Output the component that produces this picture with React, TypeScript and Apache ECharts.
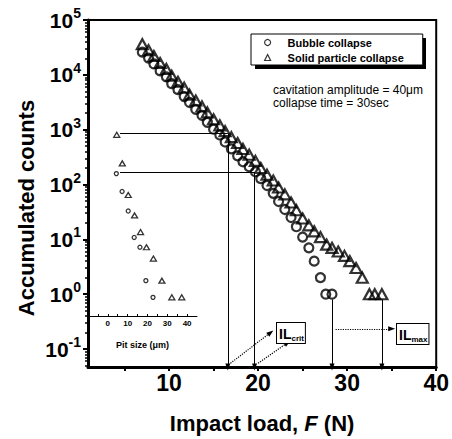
import React, { useEffect, useRef } from 'react';
import * as echarts from 'echarts';

const FONT = 'Liberation Sans, Arial, Helvetica, sans-serif';

// Main plot: impact load F (N) vs accumulated counts
const solidF = [7.0, 7.7, 8.3, 9.0, 9.7, 10.3, 11.0, 11.7, 12.3, 13.0, 13.7, 14.3, 15.0, 15.7, 16.3, 17.0, 17.7, 18.3, 19.0, 19.7, 20.3, 21.0, 21.7, 22.3, 23.0, 23.7, 24.3, 25.0, 25.7, 26.3, 27.0, 27.7, 28.3, 29.0, 29.7, 30.3, 31.0, 31.7, 32.5, 33.1, 33.9];
const solidCounts = [36200, 28200, 22000, 16400, 12800, 9600, 7480, 5830, 4360, 3400, 2650, 2070, 1550, 1200, 940, 730, 570, 445, 350, 270, 200, 151, 118, 88, 66, 47, 34, 24, 18, 14, 11, 8, 7, 6, 5, 4, 3, 2, 1, 1, 1];
const bubbleF = [7.0, 7.7, 8.3, 9.0, 9.7, 10.3, 11.0, 11.7, 12.3, 13.0, 13.7, 14.3, 15.0, 15.7, 16.3, 17.0, 17.7, 18.3, 19.0, 19.7, 20.3, 21.0, 21.7, 22.3, 23.0, 23.7, 24.3, 25.0, 25.7, 26.3, 27.0, 27.6, 28.3];
const bubbleCounts = [25900, 20200, 15800, 11800, 9200, 6890, 5370, 4020, 3130, 2340, 1820, 1360, 1020, 800, 596, 446, 333, 260, 211, 171, 128, 96, 69, 49, 35, 25, 17, 11, 7, 4, 2, 1, 1];

// Inset: pit size (um) vs counts
const insetBubbleSize = [4.3, 7.2, 10.3, 13.3, 16.2, 19.2, 22.8];
const insetBubbleCounts = [170, 81, 36, 12, 8, 2, 1];
const insetSolidSize = [4.5, 7.3, 10.3, 13.5, 16.5, 19.5, 23.0, 27.3, 32.3, 37.3];
const insetSolidCounts = [850, 260, 70, 30, 15, 8, 5, 2, 1, 1];

// Critical / max impact loads
const ilCritF = [16.6, 19.6];
const ilCritCounts = [850, 170];
const ilMaxF = [28.3, 33.9];
const insetLinkStartF = 4.5;

// Axis ticks
const xMajorTicks = [10, 20, 30, 40];
const xAllTicks = [5, 10, 15, 20, 25, 30, 35, 40];
const yMajorTicks = [0.1, 1, 10, 100, 1000, 10000, 100000];
const insetXLabels = [0, 10, 20, 30, 40];
const insetXTicks = [-5, 0, 5, 10, 15, 20, 25, 30, 35, 40];

const Y_MIN = 0.047;
const Y_MAX = 100000;

const yMinorTicks: number[] = [];
for (let d = -2; d <= 4; d++) {
  for (let m = 2; m <= 9; m++) {
    const v = Number((m * Math.pow(10, d)).toPrecision(3));
    if (v >= Y_MIN && v <= Y_MAX) yMinorTicks.push(v);
  }
}

const zip = (a: number[], b: number[]) => a.map((v, i) => [v, b[i]]);

const hollow = (w: number) => ({ color: 'transparent', borderColor: '#000', borderWidth: w });

const solidLine = { color: '#000', width: 1, type: 'solid' as const };
const dotLine = { color: '#000', width: 1.2, type: 'dotted' as const };

const mlSeg = (a: number[], b: number[], arrow: boolean, style: any) => [
  { coord: a, symbol: 'none', lineStyle: style },
  { coord: b, symbol: arrow ? 'triangle' : 'none', symbolSize: [5, 7], lineStyle: style },
];

function buildOption(): any {
  const markData: any[] = [];
  for (let i = 0; i < ilCritF.length; i++) {
    markData.push(mlSeg([insetLinkStartF, ilCritCounts[i]], [ilCritF[i], ilCritCounts[i]], false, solidLine));
    markData.push(mlSeg([ilCritF[i], ilCritCounts[i]], [ilCritF[i], Y_MIN], true, solidLine));
  }
  for (let i = 0; i < ilMaxF.length; i++) {
    markData.push(mlSeg([ilMaxF[i], 0.8], [ilMaxF[i], Y_MIN], true, solidLine));
  }
  // dotted pointers to the IL labels
  markData.push(mlSeg([16.9, 0.055], [21.4, 0.2], true, dotLine));
  markData.push(mlSeg([20.0, 0.055], [23.3, 0.13], true, dotLine));
  markData.push(mlSeg([28.7, 0.234], [35.0, 0.234], true, dotLine));

  return {
    animation: false,
    backgroundColor: '#fff',
    textStyle: { fontFamily: FONT },
    grid: [
      { left: 88, top: 20, right: 12, bottom: 68, show: true, borderColor: '#000', borderWidth: 2, backgroundColor: 'transparent' },
      { left: 88, top: 20, width: 109, bottom: 68 },
    ],
    legend: {
      left: 251,
      top: 34,
      orient: 'vertical',
      padding: [3, 19, 2, 13],
      itemGap: 4,
      itemWidth: 6,
      itemHeight: 6,
      backgroundColor: '#fff',
      borderColor: '#000',
      borderWidth: 1,
      selectedMode: false,
      z: 10,
      textStyle: { fontSize: 11, fontWeight: 'bold', fontFamily: FONT, color: '#000', padding: [0, 0, 0, 12] },
      itemStyle: { color: 'transparent', borderColor: '#000', borderWidth: 1.2 },
      data: ['Bubble collapse', 'Solid particle collapse'],
    },
    xAxis: [
      {
        type: 'value',
        gridIndex: 0,
        min: 0.9,
        max: 40,
        axisLine: { lineStyle: { color: '#000', width: 3 } },
        axisTick: { customValues: xAllTicks, length: 4, lineStyle: { color: '#000', width: 2 } },
        axisLabel: { customValues: xMajorTicks, fontSize: 23, fontWeight: 'bold', color: '#000', fontFamily: FONT, margin: 4 },
        splitLine: { show: false },
        name: '{a|Impact load, }{b|F}{a| (N)}',
        nameLocation: 'middle',
        nameGap: 45,
        nameTextStyle: {
          rich: {
            a: { fontSize: 22, fontWeight: 'bold', fontFamily: FONT, color: '#000' },
            b: { fontSize: 22, fontWeight: 'bold', fontStyle: 'italic', fontFamily: FONT, color: '#000' },
          },
        },
      },
      {
        type: 'value',
        gridIndex: 1,
        min: -10,
        max: 45,
        offset: -55,
        axisLine: { lineStyle: { color: '#000', width: 1 } },
        axisTick: { customValues: insetXTicks, inside: true, length: 2, lineStyle: { color: '#000', width: 1 } },
        axisLabel: { customValues: insetXLabels, fontSize: 8, fontWeight: 'bold', color: '#000', fontFamily: FONT, margin: 3 },
        splitLine: { show: false },
        name: 'Pit size (μm)',
        nameLocation: 'middle',
        nameGap: 24,
        nameTextStyle: { fontSize: 9, fontWeight: 'bold', fontFamily: FONT, color: '#000' },
      },
    ],
    yAxis: [
      {
        type: 'log',
        logBase: 10,
        gridIndex: 0,
        min: Y_MIN,
        max: Y_MAX,
        axisLine: { lineStyle: { color: '#000', width: 3 } },
        axisTick: { customValues: yMajorTicks, length: 5, lineStyle: { color: '#000', width: 2 } },
        axisLabel: {
          customValues: yMajorTicks,
          margin: 7,
          formatter: (v: number) => `{b|10}{s|${Math.round(Math.log10(v))}}`,
          rich: {
            b: { fontSize: 21, fontWeight: 'bold', fontFamily: FONT, color: '#000', lineHeight: 28 },
            s: { fontSize: 14, fontWeight: 'bold', fontFamily: FONT, color: '#000', lineHeight: 14, verticalAlign: 'top' },
          },
        },
        splitLine: { show: false },
        minorTick: { show: false },
      },
      {
        type: 'log',
        logBase: 10,
        gridIndex: 0,
        min: Y_MIN,
        max: Y_MAX,
        position: 'left',
        axisLine: { show: false },
        axisTick: { customValues: yMinorTicks, length: 3, lineStyle: { color: '#000', width: 1.5 } },
        axisLabel: { show: false },
        splitLine: { show: false },
      },
      {
        type: 'log',
        logBase: 10,
        gridIndex: 1,
        min: Y_MIN,
        max: Y_MAX,
        show: false,
        splitLine: { show: false },
      },
    ],
    series: [
      {
        name: 'Bubble collapse',
        type: 'scatter',
        xAxisIndex: 0,
        yAxisIndex: 0,
        symbol: 'circle',
        symbolSize: 9,
        itemStyle: hollow(2.2),
        data: zip(bubbleF, bubbleCounts),
        z: 3,
      },
      {
        name: 'Solid particle collapse',
        type: 'scatter',
        xAxisIndex: 0,
        yAxisIndex: 0,
        symbol: 'triangle',
        symbolSize: [11, 10],
        itemStyle: hollow(2.2),
        data: zip(solidF, solidCounts),
        z: 4,
        markLine: {
          silent: true,
          symbol: ['none', 'none'],
          label: { show: false },
          lineStyle: solidLine,
          emphasis: { disabled: true },
          data: markData,
        },
      },
      {
        name: 'Bubble collapse',
        type: 'scatter',
        xAxisIndex: 1,
        yAxisIndex: 2,
        symbol: 'circle',
        symbolSize: 4,
        itemStyle: hollow(1.3),
        data: zip(insetBubbleSize, insetBubbleCounts),
      },
      {
        name: 'Solid particle collapse',
        type: 'scatter',
        xAxisIndex: 1,
        yAxisIndex: 2,
        symbol: 'triangle',
        symbolSize: [6, 5],
        itemStyle: hollow(1.3),
        data: zip(insetSolidSize, insetSolidCounts),
      },
    ],
    graphic: [
      {
        type: 'text',
        x: 26,
        y: 208,
        rotation: Math.PI / 2,
        style: { text: 'Accumulated counts', align: 'center', verticalAlign: 'middle', fontSize: 22, fontWeight: 'bold', fontFamily: FONT, fill: '#000' },
      },
      {
        type: 'rect',
        z: 9,
        shape: { x: 255, y: 38, width: 171, height: 31 },
        style: { fill: '#000' },
      },
      {
        type: 'text',
        x: 273,
        y: 90,
        style: { text: 'cavitation amplitude = 40μm', align: 'left', verticalAlign: 'middle', fontSize: 12, fontFamily: FONT, fill: '#000' },
      },
      {
        type: 'text',
        x: 273,
        y: 103,
        style: { text: 'collapse time = 30sec', align: 'left', verticalAlign: 'middle', fontSize: 12, fontFamily: FONT, fill: '#000' },
      },
      {
        type: 'text',
        x: 277,
        y: 323,
        z: 20,
        style: {
          text: '{a|IL}{b|crit}',
          align: 'left',
          verticalAlign: 'top',
          backgroundColor: '#fff',
          borderColor: '#000',
          borderWidth: 1,
          padding: [2, 1, 1, 2],
          rich: {
            a: { fontSize: 14, fontWeight: 'bold', fontFamily: FONT, fill: '#000', lineHeight: 17 },
            b: { fontSize: 8, fontWeight: 'bold', fontFamily: FONT, fill: '#000', lineHeight: 9, verticalAlign: 'bottom' },
          },
        },
      },
      {
        type: 'text',
        x: 397,
        y: 324,
        z: 20,
        style: {
          text: '{a|IL}{b|max}',
          align: 'left',
          verticalAlign: 'top',
          backgroundColor: '#fff',
          borderColor: '#000',
          borderWidth: 1,
          padding: [2, 1, 1, 2],
          rich: {
            a: { fontSize: 14, fontWeight: 'bold', fontFamily: FONT, fill: '#000', lineHeight: 17 },
            b: { fontSize: 8, fontWeight: 'bold', fontFamily: FONT, fill: '#000', lineHeight: 9, verticalAlign: 'bottom' },
          },
        },
      },
    ],
  };
}

export default function App() {
  const ref = useRef<HTMLDivElement>(null);
  useEffect(() => {
    if (!ref.current) return;
    const chart = echarts.init(ref.current, null, { renderer: 'svg' });
    chart.setOption(buildOption());
    return () => chart.dispose();
  }, []);
  return (
    <div
      ref={ref}
      style={{ position: 'fixed', left: 0, top: 0, width: 452, height: 439, background: '#fff' }}
    />
  );
}
